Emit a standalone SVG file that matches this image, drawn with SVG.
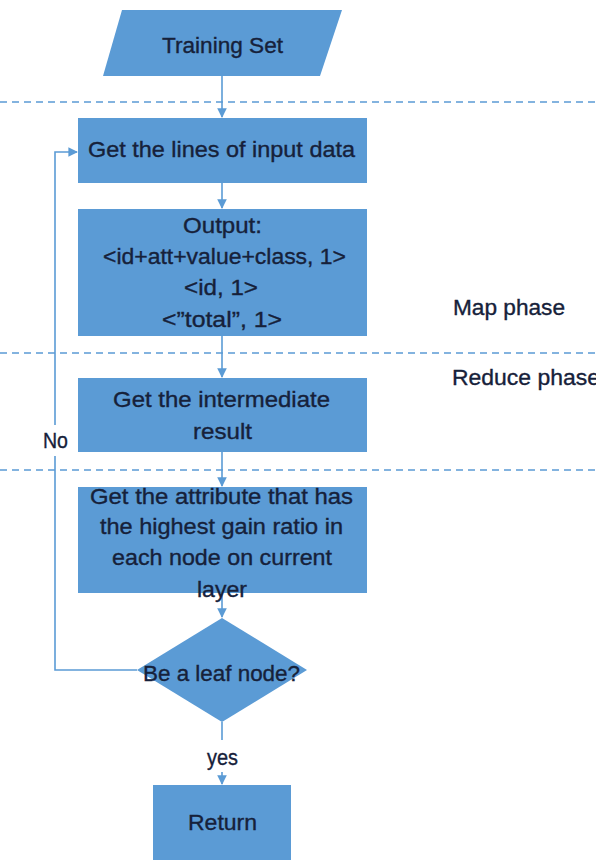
<svg xmlns="http://www.w3.org/2000/svg" width="596" height="863" viewBox="0 0 596 863">
<style>
.shape{fill:#5b9bd5;}
.t{font-family:"Liberation Sans",Arial,sans-serif;font-size:22px;fill:#16213a;stroke:#16213a;stroke-width:0.35;text-anchor:middle;}
.tl{font-family:"Liberation Sans",Arial,sans-serif;font-size:22px;fill:#16213a;stroke:#16213a;stroke-width:0.35;text-anchor:start;}
.dash{stroke:#5b9bd5;stroke-width:1.3;stroke-dasharray:7 5;fill:none;}
.conn{stroke:#5b9bd5;stroke-width:1.6;fill:none;}
</style>
<defs>
<marker id="arr" viewBox="0 0 10 10" refX="9" refY="5" markerWidth="6" markerHeight="6" markerUnits="strokeWidth" orient="auto">
<path d="M0,0 L10,5 L0,10 z" fill="#5b9bd5"/>
</marker>
</defs>
<rect width="596" height="863" fill="#ffffff"/>
<g id="phase-lines">
<line class="dash" x1="0" y1="102" x2="596" y2="102"/>
<line class="dash" x1="0" y1="353" x2="596" y2="353"/>
<line class="dash" x1="0" y1="470" x2="596" y2="470"/>
</g>
<g id="connectors">
<path class="conn" d="M222,76 V117" marker-end="url(#arr)"/>
<path class="conn" d="M222,183 V208" marker-end="url(#arr)"/>
<path class="conn" d="M222,336 V377" marker-end="url(#arr)"/>
<path class="conn" d="M222,452 V486" marker-end="url(#arr)"/>
<path class="conn" d="M222,593 V617" marker-end="url(#arr)"/>
<path class="conn" d="M137,670 H55 V456 M55,425 V152 H77" marker-end="url(#arr)"/>
<path class="conn" d="M222,722 V740 M222,772 V784" marker-end="url(#arr)"/>
<text class="tl" x="43" y="448" textLength="25" lengthAdjust="spacingAndGlyphs">No</text>
<text class="t" x="222.5" y="765" textLength="31" lengthAdjust="spacingAndGlyphs">yes</text>
</g>
<g id="training-set">
<polygon class="shape" points="122,10 342,10 320,76 103,76"/>
<text class="t" x="222.5" y="53" textLength="121" lengthAdjust="spacingAndGlyphs">Training Set</text>
</g>
<g id="get-lines">
<rect class="shape" x="78" y="118" width="289" height="65"/>
<text class="t" x="221.5" y="157" textLength="267" lengthAdjust="spacingAndGlyphs">Get the lines of input data</text>
</g>
<g id="output">
<rect class="shape" x="78" y="209" width="289" height="127"/>
<text class="t" x="222.5" y="233" textLength="79" lengthAdjust="spacingAndGlyphs">Output:</text>
<text class="t" x="224.5" y="264" textLength="243" lengthAdjust="spacingAndGlyphs">&lt;id+att+value+class, 1&gt;</text>
<text class="t" x="221" y="295" textLength="74" lengthAdjust="spacingAndGlyphs">&lt;id, 1&gt;</text>
<text class="t" x="222" y="327" textLength="120" lengthAdjust="spacingAndGlyphs">&lt;”total”, 1&gt;</text>
</g>
<g id="intermediate">
<rect class="shape" x="78" y="378" width="289" height="74"/>
<text class="t" x="221.5" y="407" textLength="217" lengthAdjust="spacingAndGlyphs">Get the intermediate</text>
<text class="t" x="222.5" y="439" textLength="59" lengthAdjust="spacingAndGlyphs">result</text>
</g>
<g id="attribute">
<rect class="shape" x="78" y="487" width="289" height="106"/>
<text class="t" x="221.5" y="504" textLength="263" lengthAdjust="spacingAndGlyphs">Get the attribute that has</text>
<text class="t" x="221.5" y="534" textLength="243" lengthAdjust="spacingAndGlyphs">the highest gain ratio in</text>
<text class="t" x="222" y="565" textLength="220" lengthAdjust="spacingAndGlyphs">each node on current</text>
<text class="t" x="222" y="597" textLength="50" lengthAdjust="spacingAndGlyphs">layer</text>
</g>
<g id="leaf-decision">
<polygon class="shape" points="222,618 307,670 222,722 137,670"/>
<text class="t" x="221.5" y="681" textLength="157" lengthAdjust="spacingAndGlyphs">Be a leaf node?</text>
</g>
<g id="return">
<rect class="shape" x="153" y="785" width="138" height="75"/>
<text class="t" x="222.5" y="830" textLength="69" lengthAdjust="spacingAndGlyphs">Return</text>
</g>
<g id="phase-labels">
<text class="tl" x="453" y="315" textLength="112" lengthAdjust="spacingAndGlyphs">Map phase</text>
<text class="tl" x="452" y="385" textLength="148" lengthAdjust="spacingAndGlyphs">Reduce phase</text>
</g>
</svg>
